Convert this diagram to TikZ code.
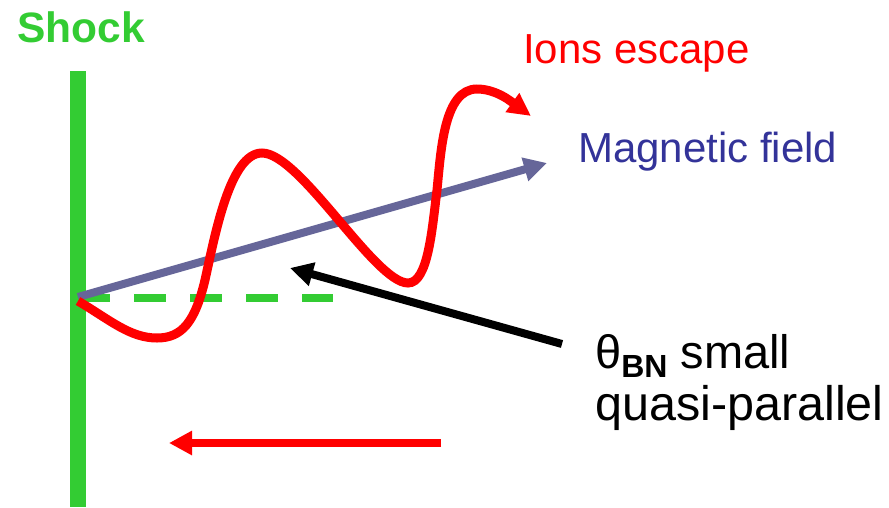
\documentclass[tikz,border=0pt]{standalone}
\usepackage{fontspec}
\setmainfont{Liberation Sans}
\usetikzlibrary{arrows.meta}
\definecolor{shockgreen}{HTML}{33CC33}
\definecolor{fieldline}{HTML}{666699}
\definecolor{fieldtext}{HTML}{333399}
\definecolor{ionred}{HTML}{FF0000}
\tikzset{
  lbl/.style={inner sep=0pt, anchor=base west},
  bigtip/.style={-{Triangle[length=23pt,width=23pt]}},
}
\begin{document}
\begin{tikzpicture}[x=1pt,y=-1pt]
\useasboundingbox (0,0) rectangle (889,507);
% shock
\node[lbl, text=shockgreen, font=\fontsize{42.5}{42.5}\selectfont\bfseries] (shock) at (17,42) {Shock};
\fill[shockgreen] (70,71) rectangle (86,507);
\draw[shockgreen, line width=8pt, dash pattern=on 32pt off 24pt] (78,298) -- (333,298);
% coordinates
\coordinate (origin) at (78,297);
\coordinate (btip) at (547,163);
\coordinate (ctail) at (562,344);
\coordinate (ctip) at (290,268);
\coordinate (rtail) at (441,443);
\coordinate (rtip) at (169,443);
% magnetic field
\draw[fieldline, line width=8pt, bigtip] (origin) -- (btip);
\node[lbl, text=fieldtext, font=\fontsize{42}{42}\selectfont] (field) at (578,162) {Magnetic field};
% ion path
\draw[ionred, line width=9pt, -{Triangle[length=23pt,width=22pt]}]
  (78,301) .. controls (110,320) and (130,338) .. (157,338)
  .. controls (182,338) and (195,322) .. (205,280)
  .. controls (215,235) and (230,153) .. (262,153)
  .. controls (300,153) and (375,283) .. (408,283)
  .. controls (428,283) and (432,230) .. (437,190)
  .. controls (441,150) and (444,89) .. (477,89)
  .. controls (497,89) and (513,103) .. (531,116);
\node[lbl, text=ionred, font=\fontsize{42}{42}\selectfont] (ions) at (523,63) {Ions escape};
% theta label
\draw[black, line width=8pt, bigtip] (ctail) -- (ctip);
\node[lbl, font=\fontsize{47}{47}\selectfont] (theta) at (595,368) {θ\raisebox{-9pt}{\fontsize{32}{32}\selectfont\bfseries BN} small};
\node[lbl, font=\fontsize{48.5}{48.5}\selectfont] (quasi) at (595,420) {quasi-parallel};
% flow arrow
\draw[ionred, line width=8pt, bigtip] (rtail) -- (rtip);
\end{tikzpicture}
\end{document}
